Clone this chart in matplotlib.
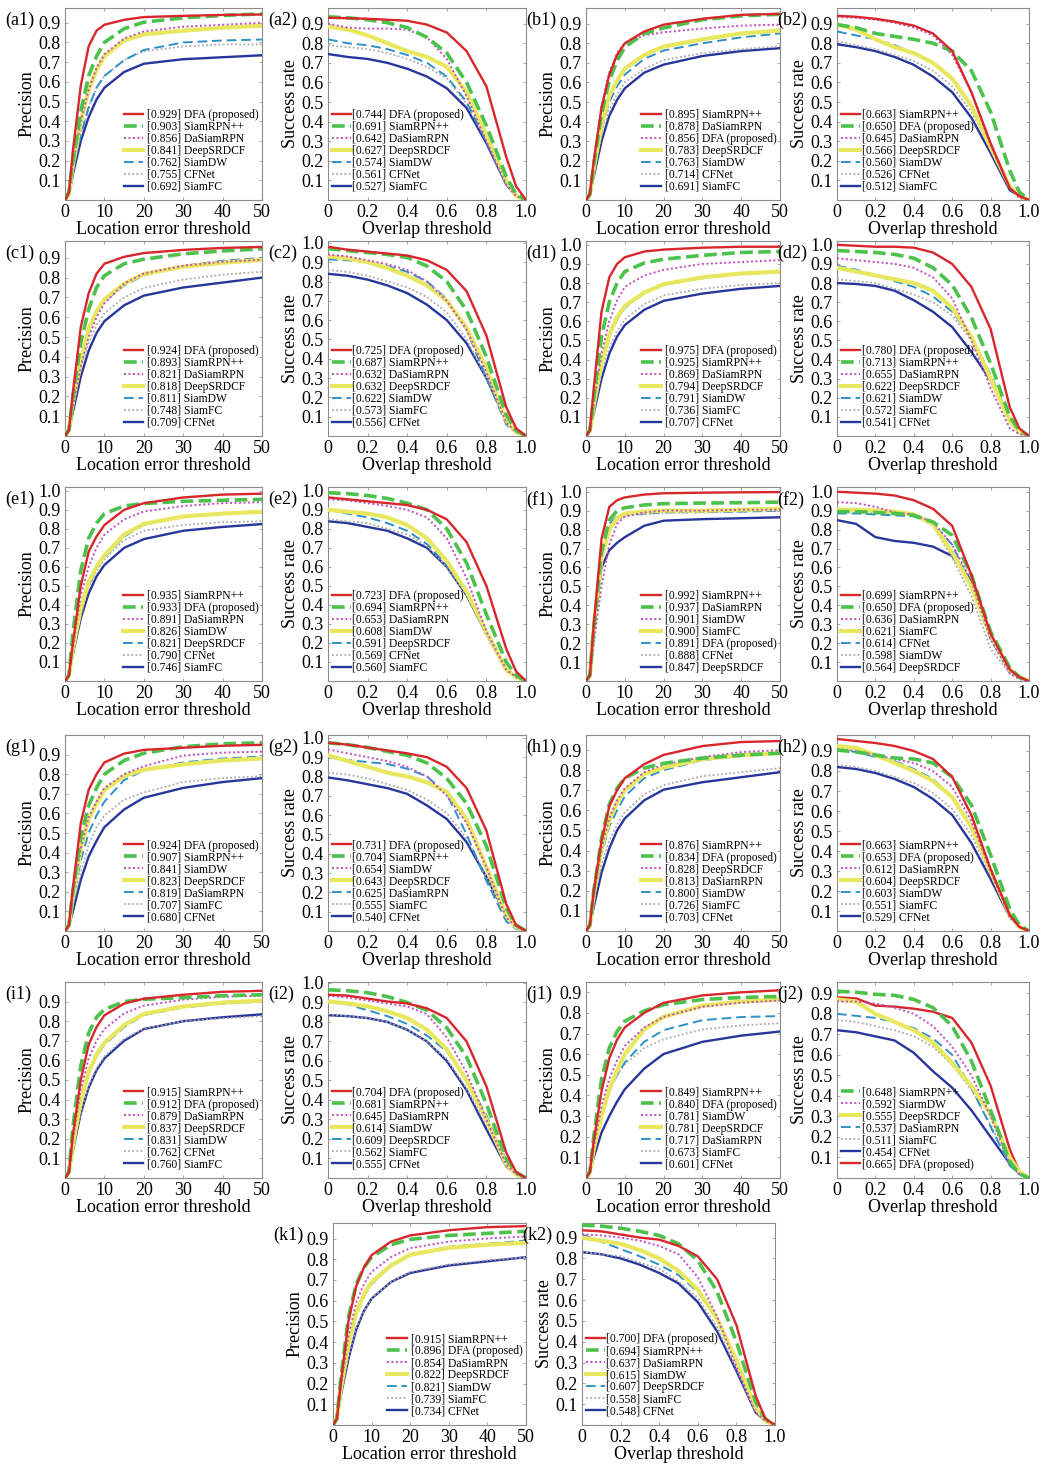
import matplotlib
matplotlib.use("Agg")
import matplotlib.pyplot as plt

plt.rcParams['font.family'] = ['Liberation Serif', 'DejaVu Serif']

W, H = 1051, 1466

# x positions of the sampled curve points
prec_x = [0, 1, 2, 4, 6, 8, 10, 15, 20, 30, 40, 50]
succ_x = [0, 0.1, 0.2, 0.3, 0.4, 0.5, 0.6, 0.7, 0.8, 0.9, 0.95, 1.0]

# ---------------- (a) ----------------
a1_names = ["DFA (proposed)", "SiamRPN++", "DaSiamRPN", "DeepSRDCF", "SiamDW", "CFNet", "SiamFC"]
a1_scores = [0.929, 0.903, 0.856, 0.841, 0.762, 0.755, 0.692]
a1_curves = [
    [0, 0.04, 0.25, 0.58, 0.78, 0.86, 0.89, 0.915, 0.929, 0.935, 0.94, 0.942],
    [0, 0.04, 0.20, 0.45, 0.63, 0.73, 0.80, 0.87, 0.903, 0.925, 0.937, 0.945],
    [0, 0.03, 0.18, 0.40, 0.56, 0.67, 0.74, 0.82, 0.856, 0.88, 0.89, 0.90],
    [0, 0.03, 0.18, 0.40, 0.56, 0.66, 0.73, 0.81, 0.841, 0.86, 0.875, 0.885],
    [0, 0.03, 0.15, 0.33, 0.47, 0.57, 0.63, 0.71, 0.762, 0.80, 0.81, 0.815],
    [0, 0.03, 0.15, 0.33, 0.47, 0.57, 0.63, 0.71, 0.755, 0.78, 0.79, 0.79],
    [0, 0.03, 0.13, 0.30, 0.42, 0.51, 0.57, 0.65, 0.692, 0.715, 0.725, 0.735],
]
a2_names = ["DFA (proposed)", "SiamRPN++", "DaSiamRPN", "DeepSRDCF", "SiamDW", "CFNet", "SiamFC"]
a2_scores = [0.744, 0.691, 0.642, 0.627, 0.574, 0.561, 0.527]
a2_curves = [
    [0.93, 0.928, 0.925, 0.92, 0.915, 0.895, 0.855, 0.76, 0.58, 0.22, 0.07, 0],
    [0.935, 0.93, 0.92, 0.905, 0.88, 0.83, 0.75, 0.60, 0.38, 0.12, 0.03, 0],
    [0.90, 0.88, 0.875, 0.875, 0.87, 0.83, 0.72, 0.53, 0.30, 0.08, 0.02, 0],
    [0.885, 0.87, 0.84, 0.80, 0.76, 0.73, 0.68, 0.55, 0.33, 0.10, 0.02, 0],
    [0.82, 0.80, 0.79, 0.77, 0.74, 0.70, 0.63, 0.50, 0.30, 0.08, 0.02, 0],
    [0.79, 0.78, 0.77, 0.75, 0.72, 0.68, 0.62, 0.49, 0.30, 0.08, 0.02, 0],
    [0.745, 0.73, 0.72, 0.70, 0.67, 0.63, 0.57, 0.47, 0.29, 0.08, 0.02, 0],
]

# ---------------- (b) ----------------
b1_names = ["SiamRPN++", "DaSiamRPN", "DFA (proposed)", "DeepSRDCF", "SiamDW", "CFNet", "SiamFC"]
b1_scores = [0.895, 0.878, 0.856, 0.783, 0.763, 0.714, 0.691]
b1_curves = [
    [0, 0.03, 0.20, 0.47, 0.64, 0.74, 0.80, 0.86, 0.895, 0.925, 0.945, 0.95],
    [0, 0.03, 0.18, 0.44, 0.61, 0.71, 0.78, 0.85, 0.878, 0.92, 0.94, 0.948],
    [0, 0.03, 0.20, 0.48, 0.65, 0.75, 0.80, 0.84, 0.856, 0.875, 0.89, 0.895],
    [0, 0.03, 0.16, 0.38, 0.53, 0.61, 0.67, 0.74, 0.783, 0.82, 0.85, 0.865],
    [0, 0.03, 0.15, 0.36, 0.50, 0.58, 0.64, 0.72, 0.763, 0.80, 0.83, 0.85],
    [0, 0.03, 0.14, 0.33, 0.46, 0.54, 0.60, 0.67, 0.714, 0.75, 0.77, 0.785],
    [0, 0.03, 0.12, 0.30, 0.43, 0.51, 0.57, 0.65, 0.691, 0.735, 0.76, 0.775],
]
b2_names = ["SiamRPN++", "DFA (proposed)", "DaSiamRPN", "DeepSRDCF", "SiamDW", "CFNet", "SiamFC"]
b2_scores = [0.663, 0.650, 0.645, 0.566, 0.560, 0.526, 0.512]
b2_curves = [
    [0.94, 0.935, 0.925, 0.91, 0.89, 0.85, 0.76, 0.55, 0.29, 0.06, 0.02, 0],
    [0.895, 0.88, 0.85, 0.835, 0.82, 0.80, 0.76, 0.66, 0.45, 0.15, 0.04, 0],
    [0.935, 0.93, 0.92, 0.905, 0.88, 0.84, 0.74, 0.55, 0.28, 0.06, 0.01, 0],
    [0.895, 0.87, 0.82, 0.78, 0.75, 0.70, 0.62, 0.48, 0.27, 0.07, 0.02, 0],
    [0.86, 0.84, 0.82, 0.79, 0.75, 0.70, 0.62, 0.48, 0.26, 0.06, 0.02, 0],
    [0.81, 0.79, 0.77, 0.74, 0.71, 0.66, 0.58, 0.45, 0.26, 0.06, 0.02, 0],
    [0.795, 0.78, 0.76, 0.73, 0.69, 0.63, 0.55, 0.42, 0.24, 0.05, 0.02, 0],
]

# ---------------- (c) ----------------
c1_names = ["DFA (proposed)", "SiamRPN++", "DaSiamRPN", "DeepSRDCF", "SiamDW", "SiamFC", "CFNet"]
c1_scores = [0.924, 0.893, 0.821, 0.818, 0.811, 0.748, 0.709]
c1_curves = [
    [0, 0.03, 0.22, 0.55, 0.72, 0.82, 0.87, 0.905, 0.924, 0.94, 0.95, 0.955],
    [0, 0.03, 0.20, 0.47, 0.64, 0.75, 0.81, 0.87, 0.893, 0.92, 0.935, 0.945],
    [0, 0.03, 0.15, 0.35, 0.50, 0.60, 0.67, 0.77, 0.821, 0.86, 0.88, 0.89],
    [0, 0.03, 0.17, 0.38, 0.54, 0.63, 0.69, 0.77, 0.818, 0.855, 0.875, 0.89],
    [0, 0.03, 0.17, 0.38, 0.53, 0.62, 0.68, 0.76, 0.811, 0.86, 0.885, 0.90],
    [0, 0.03, 0.15, 0.33, 0.47, 0.56, 0.62, 0.70, 0.748, 0.79, 0.815, 0.83],
    [0, 0.03, 0.12, 0.30, 0.43, 0.52, 0.58, 0.66, 0.709, 0.75, 0.775, 0.80],
]
c2_names = ["DFA (proposed)", "SiamRPN++", "DaSiamRPN", "DeepSRDCF", "SiamDW", "SiamFC", "CFNet"]
c2_scores = [0.725, 0.687, 0.632, 0.632, 0.622, 0.573, 0.556]
c2_curves = [
    [0.98, 0.965, 0.955, 0.945, 0.935, 0.91, 0.86, 0.75, 0.52, 0.15, 0.04, 0],
    [0.97, 0.96, 0.95, 0.94, 0.925, 0.88, 0.80, 0.65, 0.41, 0.11, 0.03, 0],
    [0.94, 0.93, 0.91, 0.89, 0.86, 0.80, 0.70, 0.55, 0.33, 0.07, 0.02, 0],
    [0.93, 0.92, 0.90, 0.87, 0.83, 0.78, 0.70, 0.56, 0.35, 0.08, 0.02, 0],
    [0.915, 0.91, 0.90, 0.88, 0.85, 0.80, 0.71, 0.55, 0.30, 0.06, 0.02, 0],
    [0.86, 0.85, 0.83, 0.80, 0.77, 0.72, 0.64, 0.50, 0.30, 0.07, 0.02, 0],
    [0.84, 0.83, 0.81, 0.78, 0.74, 0.68, 0.60, 0.48, 0.30, 0.08, 0.02, 0],
]

# ---------------- (d) ----------------
d1_names = ["DFA (proposed)", "SiamRPN++", "DaSiamRPN", "DeepSRDCF", "SiamDW", "SiamFC", "CFNet"]
d1_scores = [0.975, 0.925, 0.869, 0.794, 0.791, 0.736, 0.707]
d1_curves = [
    [0, 0.03, 0.25, 0.65, 0.83, 0.90, 0.935, 0.965, 0.975, 0.985, 0.99, 0.99],
    [0, 0.03, 0.20, 0.52, 0.70, 0.80, 0.86, 0.905, 0.925, 0.945, 0.96, 0.965],
    [0, 0.03, 0.17, 0.43, 0.60, 0.71, 0.78, 0.84, 0.869, 0.90, 0.91, 0.92],
    [0, 0.03, 0.16, 0.38, 0.53, 0.62, 0.68, 0.75, 0.794, 0.83, 0.85, 0.86],
    [0, 0.03, 0.16, 0.38, 0.52, 0.61, 0.67, 0.75, 0.791, 0.825, 0.85, 0.86],
    [0, 0.03, 0.14, 0.33, 0.46, 0.55, 0.61, 0.69, 0.736, 0.77, 0.79, 0.80],
    [0, 0.03, 0.12, 0.30, 0.43, 0.52, 0.58, 0.66, 0.707, 0.745, 0.77, 0.785],
]
d2_names = ["DFA (proposed)", "SiamRPN++", "DaSiamRPN", "DeepSRDCF", "SiamDW", "SiamFC", "CFNet"]
d2_scores = [0.780, 0.713, 0.655, 0.622, 0.621, 0.572, 0.541]
d2_curves = [
    [1.0, 0.995, 0.99, 0.99, 0.985, 0.96, 0.90, 0.78, 0.56, 0.15, 0.04, 0],
    [0.97, 0.965, 0.96, 0.95, 0.93, 0.88, 0.79, 0.62, 0.38, 0.10, 0.03, 0],
    [0.93, 0.92, 0.91, 0.90, 0.88, 0.83, 0.72, 0.50, 0.25, 0.04, 0.01, 0],
    [0.88, 0.86, 0.84, 0.82, 0.80, 0.76, 0.67, 0.52, 0.30, 0.08, 0.02, 0],
    [0.89, 0.87, 0.84, 0.81, 0.78, 0.73, 0.65, 0.52, 0.32, 0.09, 0.02, 0],
    [0.82, 0.81, 0.80, 0.77, 0.74, 0.70, 0.63, 0.50, 0.30, 0.07, 0.02, 0],
    [0.80, 0.795, 0.785, 0.76, 0.71, 0.65, 0.57, 0.44, 0.29, 0.09, 0.02, 0],
]

# ---------------- (e) ----------------
e1_names = ["SiamRPN++", "DFA (proposed)", "DaSiamRPN", "SiamDW", "DeepSRDCF", "CFNet", "SiamFC"]
e1_scores = [0.935, 0.933, 0.891, 0.826, 0.821, 0.790, 0.746]
e1_curves = [
    [0, 0.03, 0.20, 0.50, 0.68, 0.76, 0.82, 0.90, 0.935, 0.965, 0.98, 0.985],
    [0, 0.03, 0.25, 0.58, 0.75, 0.83, 0.88, 0.92, 0.933, 0.945, 0.95, 0.955],
    [0, 0.03, 0.18, 0.45, 0.60, 0.70, 0.77, 0.85, 0.891, 0.92, 0.935, 0.94],
    [0, 0.03, 0.17, 0.38, 0.52, 0.60, 0.66, 0.77, 0.826, 0.865, 0.88, 0.89],
    [0, 0.03, 0.17, 0.37, 0.50, 0.59, 0.65, 0.76, 0.821, 0.865, 0.88, 0.89],
    [0, 0.03, 0.16, 0.35, 0.49, 0.58, 0.64, 0.74, 0.790, 0.82, 0.835, 0.84],
    [0, 0.03, 0.14, 0.33, 0.46, 0.55, 0.61, 0.70, 0.746, 0.79, 0.81, 0.825],
]
e2_names = ["DFA (proposed)", "SiamRPN++", "DaSiamRPN", "SiamDW", "DeepSRDCF", "CFNet", "SiamFC"]
e2_scores = [0.723, 0.694, 0.653, 0.608, 0.591, 0.569, 0.560]
e2_curves = [
    [0.965, 0.955, 0.945, 0.935, 0.925, 0.90, 0.85, 0.73, 0.50, 0.17, 0.05, 0],
    [0.99, 0.985, 0.975, 0.96, 0.935, 0.90, 0.80, 0.62, 0.35, 0.10, 0.03, 0],
    [0.955, 0.95, 0.935, 0.92, 0.90, 0.86, 0.75, 0.54, 0.26, 0.06, 0.02, 0],
    [0.90, 0.89, 0.88, 0.86, 0.82, 0.75, 0.63, 0.47, 0.26, 0.06, 0.02, 0],
    [0.90, 0.88, 0.86, 0.83, 0.79, 0.72, 0.61, 0.46, 0.25, 0.06, 0.02, 0],
    [0.85, 0.84, 0.83, 0.80, 0.77, 0.71, 0.60, 0.45, 0.24, 0.05, 0.02, 0],
    [0.84, 0.83, 0.81, 0.79, 0.75, 0.70, 0.60, 0.45, 0.25, 0.06, 0.02, 0],
]

# ---------------- (f) ----------------
f1_names = ["SiamRPN++", "DaSiamRPN", "SiamDW", "SiamFC", "DFA (proposed)", "CFNet", "DeepSRDCF"]
f1_scores = [0.992, 0.937, 0.901, 0.900, 0.891, 0.888, 0.847]
f1_curves = [
    [0, 0.03, 0.30, 0.75, 0.92, 0.955, 0.97, 0.985, 0.992, 0.995, 0.997, 0.998],
    [0, 0.03, 0.28, 0.68, 0.85, 0.90, 0.915, 0.93, 0.937, 0.94, 0.942, 0.945],
    [0, 0.03, 0.20, 0.50, 0.72, 0.83, 0.87, 0.89, 0.901, 0.90, 0.905, 0.905],
    [0, 0.03, 0.28, 0.65, 0.80, 0.86, 0.885, 0.895, 0.90, 0.90, 0.905, 0.91],
    [0, 0.03, 0.28, 0.66, 0.83, 0.87, 0.88, 0.885, 0.891, 0.893, 0.895, 0.90],
    [0, 0.03, 0.27, 0.64, 0.80, 0.85, 0.87, 0.88, 0.888, 0.89, 0.895, 0.90],
    [0, 0.03, 0.27, 0.60, 0.69, 0.73, 0.76, 0.82, 0.847, 0.855, 0.86, 0.865],
]
f2_names = ["SiamRPN++", "DFA (proposed)", "DaSiamRPN", "SiamFC", "CFNet", "SiamDW", "DeepSRDCF"]
f2_scores = [0.699, 0.650, 0.636, 0.621, 0.614, 0.598, 0.564]
f2_curves = [
    [1.0, 0.995, 0.99, 0.98, 0.955, 0.91, 0.82, 0.56, 0.25, 0.06, 0.02, 0],
    [0.895, 0.895, 0.89, 0.885, 0.875, 0.84, 0.77, 0.56, 0.26, 0.07, 0.02, 0],
    [0.945, 0.94, 0.92, 0.89, 0.88, 0.84, 0.72, 0.53, 0.22, 0.04, 0.01, 0],
    [0.905, 0.905, 0.90, 0.895, 0.88, 0.83, 0.68, 0.50, 0.24, 0.06, 0.02, 0],
    [0.885, 0.885, 0.88, 0.875, 0.87, 0.83, 0.72, 0.50, 0.22, 0.05, 0.02, 0],
    [0.895, 0.895, 0.89, 0.885, 0.875, 0.82, 0.65, 0.45, 0.17, 0.04, 0.01, 0],
    [0.85, 0.83, 0.76, 0.74, 0.73, 0.71, 0.66, 0.53, 0.24, 0.06, 0.02, 0],
]

# ---------------- (g) ----------------
g1_names = ["DFA (proposed)", "SiamRPN++", "SiamDW", "DeepSRDCF", "DaSiamRPN", "SiamFC", "CFNet"]
g1_scores = [0.924, 0.907, 0.841, 0.823, 0.819, 0.707, 0.680]
g1_curves = [
    [0, 0.03, 0.22, 0.55, 0.72, 0.80, 0.86, 0.905, 0.924, 0.935, 0.945, 0.95],
    [0, 0.03, 0.20, 0.48, 0.64, 0.73, 0.80, 0.87, 0.907, 0.94, 0.955, 0.96],
    [0, 0.03, 0.18, 0.42, 0.58, 0.66, 0.73, 0.80, 0.841, 0.895, 0.91, 0.915],
    [0, 0.03, 0.18, 0.42, 0.57, 0.65, 0.72, 0.79, 0.823, 0.85, 0.87, 0.88],
    [0, 0.03, 0.15, 0.36, 0.50, 0.59, 0.66, 0.77, 0.819, 0.86, 0.88, 0.89],
    [0, 0.03, 0.13, 0.30, 0.44, 0.53, 0.59, 0.67, 0.707, 0.76, 0.78, 0.79],
    [0, 0.03, 0.10, 0.26, 0.38, 0.46, 0.53, 0.62, 0.680, 0.73, 0.76, 0.78],
]
g2_names = ["DFA (proposed)", "SiamRPN++", "SiamDW", "DeepSRDCF", "DaSiamRPN", "SiamFC", "CFNet"]
g2_scores = [0.731, 0.704, 0.654, 0.643, 0.625, 0.555, 0.540]
g2_curves = [
    [0.975, 0.965, 0.95, 0.935, 0.92, 0.90, 0.85, 0.74, 0.52, 0.14, 0.03, 0],
    [0.975, 0.965, 0.95, 0.93, 0.91, 0.87, 0.79, 0.66, 0.44, 0.12, 0.03, 0],
    [0.94, 0.92, 0.90, 0.88, 0.85, 0.80, 0.70, 0.56, 0.33, 0.07, 0.02, 0],
    [0.91, 0.88, 0.85, 0.82, 0.80, 0.77, 0.72, 0.58, 0.33, 0.08, 0.02, 0],
    [0.90, 0.885, 0.875, 0.865, 0.84, 0.80, 0.71, 0.50, 0.26, 0.05, 0.01, 0],
    [0.82, 0.81, 0.79, 0.76, 0.73, 0.68, 0.61, 0.48, 0.28, 0.07, 0.02, 0],
    [0.795, 0.78, 0.76, 0.74, 0.71, 0.65, 0.58, 0.46, 0.28, 0.08, 0.02, 0],
]

# ---------------- (h) ----------------
h1_names = ["SiamRPN++", "DFA (proposed)", "DeepSRDCF", "DaSiarnRPN", "SiamDW", "SiamFC", "CFNet"]
h1_scores = [0.876, 0.834, 0.828, 0.813, 0.800, 0.726, 0.703]
h1_curves = [
    [0, 0.03, 0.20, 0.45, 0.62, 0.70, 0.76, 0.83, 0.876, 0.92, 0.94, 0.945],
    [0, 0.03, 0.20, 0.46, 0.63, 0.71, 0.76, 0.81, 0.834, 0.86, 0.875, 0.885],
    [0, 0.03, 0.18, 0.41, 0.56, 0.65, 0.71, 0.79, 0.828, 0.865, 0.89, 0.90],
    [0, 0.03, 0.18, 0.41, 0.55, 0.64, 0.70, 0.78, 0.813, 0.855, 0.875, 0.885],
    [0, 0.03, 0.16, 0.38, 0.52, 0.60, 0.67, 0.76, 0.800, 0.85, 0.87, 0.885],
    [0, 0.03, 0.15, 0.33, 0.45, 0.53, 0.59, 0.68, 0.726, 0.77, 0.79, 0.81],
    [0, 0.03, 0.12, 0.29, 0.41, 0.50, 0.56, 0.65, 0.703, 0.74, 0.765, 0.79],
]
h2_names = ["SiamRPN++", "DFA (proposed)", "DaSiamRPN", "DeepSRDCF", "SiamDW", "SiamFC", "CFNet"]
h2_scores = [0.663, 0.653, 0.612, 0.604, 0.603, 0.551, 0.529]
h2_curves = [
    [0.96, 0.95, 0.94, 0.925, 0.90, 0.86, 0.77, 0.58, 0.31, 0.08, 0.02, 0],
    [0.905, 0.895, 0.88, 0.865, 0.86, 0.84, 0.77, 0.63, 0.38, 0.11, 0.03, 0],
    [0.91, 0.90, 0.88, 0.86, 0.84, 0.80, 0.72, 0.55, 0.30, 0.07, 0.02, 0],
    [0.925, 0.915, 0.88, 0.84, 0.80, 0.75, 0.67, 0.52, 0.30, 0.08, 0.02, 0],
    [0.905, 0.895, 0.87, 0.85, 0.81, 0.76, 0.67, 0.52, 0.29, 0.07, 0.02, 0],
    [0.83, 0.82, 0.80, 0.77, 0.74, 0.69, 0.61, 0.48, 0.28, 0.07, 0.02, 0],
    [0.82, 0.81, 0.79, 0.76, 0.72, 0.66, 0.58, 0.44, 0.26, 0.07, 0.02, 0],
]

# ---------------- (i) ----------------
i1_names = ["SiamRPN++", "DFA (proposed)", "DaSiamRPN", "DeepSRDCF", "SiamDW", "CFNet", "SiamFC"]
i1_scores = [0.915, 0.912, 0.879, 0.837, 0.831, 0.762, 0.760]
i1_curves = [
    [0, 0.03, 0.22, 0.50, 0.68, 0.77, 0.83, 0.89, 0.915, 0.935, 0.95, 0.955],
    [0, 0.03, 0.26, 0.57, 0.74, 0.82, 0.86, 0.90, 0.912, 0.92, 0.93, 0.935],
    [0, 0.03, 0.20, 0.45, 0.61, 0.70, 0.76, 0.84, 0.879, 0.91, 0.925, 0.93],
    [0, 0.03, 0.17, 0.39, 0.54, 0.63, 0.69, 0.78, 0.837, 0.875, 0.895, 0.905],
    [0, 0.03, 0.17, 0.38, 0.53, 0.62, 0.68, 0.77, 0.831, 0.87, 0.89, 0.90],
    [0, 0.03, 0.15, 0.34, 0.47, 0.56, 0.62, 0.71, 0.762, 0.80, 0.815, 0.825],
    [0, 0.03, 0.14, 0.33, 0.46, 0.55, 0.61, 0.70, 0.760, 0.80, 0.82, 0.835],
]
i2_names = ["DFA (proposed)", "SiamRPN++", "DaSiamRPN", "SiamDW", "DeepSRDCF", "SiamFC", "CFNet"]
i2_scores = [0.704, 0.681, 0.645, 0.614, 0.609, 0.562, 0.555]
i2_curves = [
    [0.94, 0.935, 0.92, 0.905, 0.895, 0.87, 0.82, 0.70, 0.47, 0.13, 0.03, 0],
    [0.965, 0.96, 0.95, 0.93, 0.90, 0.86, 0.77, 0.62, 0.38, 0.10, 0.03, 0],
    [0.935, 0.925, 0.91, 0.895, 0.88, 0.84, 0.72, 0.54, 0.30, 0.07, 0.02, 0],
    [0.905, 0.895, 0.88, 0.855, 0.82, 0.76, 0.66, 0.50, 0.30, 0.07, 0.02, 0],
    [0.91, 0.89, 0.86, 0.83, 0.79, 0.73, 0.65, 0.51, 0.32, 0.09, 0.02, 0],
    [0.84, 0.83, 0.82, 0.80, 0.76, 0.70, 0.61, 0.46, 0.27, 0.07, 0.02, 0],
    [0.835, 0.83, 0.82, 0.80, 0.76, 0.70, 0.60, 0.45, 0.25, 0.06, 0.02, 0],
]

# ---------------- (j) ----------------
j1_names = ["SiamRPN++", "DFA (proposed)", "SiamDW", "DeepSRDCF", "DaSiamRPN", "SiamFC", "CFNet"]
j1_scores = [0.849, 0.840, 0.781, 0.781, 0.717, 0.673, 0.601]
j1_curves = [
    [0, 0.03, 0.18, 0.42, 0.58, 0.67, 0.73, 0.80, 0.849, 0.885, 0.90, 0.91],
    [0, 0.03, 0.20, 0.48, 0.63, 0.71, 0.76, 0.81, 0.840, 0.865, 0.875, 0.88],
    [0, 0.03, 0.15, 0.35, 0.48, 0.57, 0.64, 0.73, 0.781, 0.83, 0.85, 0.86],
    [0, 0.03, 0.14, 0.30, 0.43, 0.52, 0.60, 0.72, 0.781, 0.835, 0.855, 0.865],
    [0, 0.03, 0.13, 0.30, 0.42, 0.50, 0.56, 0.66, 0.717, 0.765, 0.78, 0.785],
    [0, 0.03, 0.13, 0.30, 0.42, 0.50, 0.55, 0.63, 0.673, 0.72, 0.74, 0.75],
    [0, 0.03, 0.10, 0.22, 0.30, 0.37, 0.43, 0.53, 0.601, 0.66, 0.69, 0.71],
]
j2_names = ["SiamRPN++", "SiarmDW", "DeepSRDCF", "DaSiamRPN", "SiamFC", "CFNet", "DFA (proposed)"]
j2_scores = [0.648, 0.592, 0.555, 0.537, 0.511, 0.454, 0.665]
j2_curves = [
    [0.91, 0.905, 0.895, 0.89, 0.87, 0.83, 0.74, 0.57, 0.33, 0.08, 0.02, 0],
    [0.86, 0.86, 0.85, 0.83, 0.80, 0.74, 0.64, 0.50, 0.30, 0.07, 0.02, 0],
    [0.87, 0.86, 0.80, 0.76, 0.72, 0.66, 0.56, 0.45, 0.31, 0.10, 0.03, 0],
    [0.80, 0.79, 0.78, 0.76, 0.73, 0.68, 0.60, 0.44, 0.25, 0.06, 0.02, 0],
    [0.77, 0.76, 0.74, 0.72, 0.69, 0.64, 0.55, 0.43, 0.26, 0.07, 0.02, 0],
    [0.72, 0.71, 0.69, 0.67, 0.61, 0.52, 0.44, 0.33, 0.20, 0.07, 0.02, 0],
    [0.88, 0.875, 0.84, 0.835, 0.825, 0.81, 0.78, 0.66, 0.45, 0.14, 0.03, 0],
]

# ---------------- (k) ----------------
k1_names = ["SiamRPN++", "DFA (proposed)", "DaSiamRPN", "DeepSRDCF", "SiamDW", "SiamFC", "CFNet"]
k1_scores = [0.915, 0.896, 0.854, 0.822, 0.821, 0.739, 0.734]
k1_curves = [
    [0, 0.03, 0.20, 0.50, 0.67, 0.76, 0.82, 0.885, 0.915, 0.94, 0.955, 0.96],
    [0, 0.03, 0.22, 0.52, 0.68, 0.76, 0.81, 0.87, 0.896, 0.915, 0.925, 0.935],
    [0, 0.03, 0.18, 0.43, 0.59, 0.68, 0.74, 0.81, 0.854, 0.885, 0.90, 0.91],
    [0, 0.03, 0.17, 0.39, 0.54, 0.63, 0.69, 0.77, 0.822, 0.855, 0.87, 0.88],
    [0, 0.03, 0.17, 0.38, 0.53, 0.62, 0.68, 0.77, 0.821, 0.86, 0.875, 0.89],
    [0, 0.03, 0.15, 0.33, 0.47, 0.55, 0.61, 0.69, 0.739, 0.775, 0.795, 0.81],
    [0, 0.03, 0.14, 0.32, 0.46, 0.55, 0.61, 0.69, 0.734, 0.77, 0.79, 0.81],
]
k2_names = ["DFA (proposed)", "SiamRPN++", "DaSiamRPN", "SiamDW", "DeepSRDCF", "SiamFC", "CFNet"]
k2_scores = [0.700, 0.694, 0.637, 0.615, 0.607, 0.558, 0.548]
k2_curves = [
    [0.935, 0.93, 0.915, 0.90, 0.89, 0.86, 0.81, 0.70, 0.48, 0.14, 0.03, 0],
    [0.96, 0.955, 0.945, 0.93, 0.91, 0.87, 0.79, 0.64, 0.40, 0.11, 0.03, 0],
    [0.915, 0.91, 0.90, 0.885, 0.86, 0.82, 0.71, 0.52, 0.28, 0.06, 0.02, 0],
    [0.90, 0.885, 0.87, 0.84, 0.80, 0.74, 0.65, 0.51, 0.31, 0.08, 0.02, 0],
    [0.915, 0.88, 0.845, 0.81, 0.77, 0.72, 0.64, 0.51, 0.32, 0.09, 0.02, 0],
    [0.83, 0.82, 0.81, 0.78, 0.75, 0.69, 0.61, 0.47, 0.27, 0.06, 0.02, 0],
    [0.83, 0.82, 0.80, 0.77, 0.73, 0.68, 0.59, 0.45, 0.26, 0.06, 0.02, 0],
]

# line styles by legend rank
styles = {
    'red': dict(color='#d8262c', ls='-', lw=1.7),
    'green': dict(color='#4cc24c', ls=(0, (3.5, 1.5)), lw=2.6),
    'magenta': dict(color='#c04cc4', ls=(0, (1, 1.3)), lw=1.4),
    'yellow': dict(color='#e8e860', ls='-', lw=3.0),
    'cyan': dict(color='#3090c8', ls=(0, (5, 2.5)), lw=1.4),
    'gray': dict(color='#aaaaaa', ls=(0, (1, 1.3)), lw=1.3),
    'blue': dict(color='#28369c', ls='-', lw=1.7),
}
rank_styles = ['red', 'green', 'magenta', 'yellow', 'cyan', 'gray', 'blue']
j2_styles = ['green', 'magenta', 'yellow', 'cyan', 'gray', 'blue', 'red']

# panel: id, kind, names, scores, curves, styles, ylim top, show 1.0 tick
panels = [
    ("a1", "p", a1_names, a1_scores, a1_curves, rank_styles, 0.975, False),
    ("a2", "s", a2_names, a2_scores, a2_curves, rank_styles, 0.98, False),
    ("b1", "p", b1_names, b1_scores, b1_curves, rank_styles, 0.98, False),
    ("b2", "s", b2_names, b2_scores, b2_curves, rank_styles, 0.98, False),
    ("c1", "p", c1_names, c1_scores, c1_curves, rank_styles, 0.985, False),
    ("c2", "s", c2_names, c2_scores, c2_curves, rank_styles, 1.01, True),
    ("d1", "p", d1_names, d1_scores, d1_curves, rank_styles, 1.02, True),
    ("d2", "s", d2_names, d2_scores, d2_curves, rank_styles, 1.02, True),
    ("e1", "p", e1_names, e1_scores, e1_curves, rank_styles, 1.02, True),
    ("e2", "s", e2_names, e2_scores, e2_curves, rank_styles, 1.02, True),
    ("f1", "p", f1_names, f1_scores, f1_curves, rank_styles, 1.025, True),
    ("f2", "s", f2_names, f2_scores, f2_curves, rank_styles, 1.025, True),
    ("g1", "p", g1_names, g1_scores, g1_curves, rank_styles, 1.0, False),
    ("g2", "s", g2_names, g2_scores, g2_curves, rank_styles, 1.015, True),
    ("h1", "p", h1_names, h1_scores, h1_curves, rank_styles, 0.975, False),
    ("h2", "s", h2_names, h2_scores, h2_curves, rank_styles, 0.98, False),
    ("i1", "p", i1_names, i1_scores, i1_curves, rank_styles, 1.0, False),
    ("i2", "s", i2_names, i2_scores, i2_curves, rank_styles, 1.005, True),
    ("j1", "p", j1_names, j1_scores, j1_curves, rank_styles, 0.95, False),
    ("j2", "s", j2_names, j2_scores, j2_curves, j2_styles, 0.955, False),
    ("k1", "p", k1_names, k1_scores, k1_curves, rank_styles, 0.975, False),
    ("k2", "s", k2_names, k2_scores, k2_curves, rank_styles, 0.97, False),
]

# axes boxes in pixels (left, right) per column and (top, bottom) per row
cols = [(65, 262), (328, 526), (586, 780), (837, 1029)]
rows = [(8, 200), (241, 436), (487, 681), (735, 931), (982, 1178), (1223, 1425)]
k_cols = [(333, 526), (582, 775)]

fig = plt.figure(figsize=(W / 100, H / 100), dpi=100)

for n, (pid, kind, names, scores, curves, sty, ytop, show10) in enumerate(panels):
    r = n // 4
    if r < 5:
        x0, x1 = cols[n % 4]
    else:
        x0, x1 = k_cols[n % 4]
    y0, y1 = rows[r]
    ax = fig.add_axes([x0 / W, 1 - y1 / H, (x1 - x0) / W, (y1 - y0) / H])

    xs = prec_x if kind == "p" else succ_x
    for i in range(len(names) - 1, -1, -1):
        st = styles[sty[i]]
        ax.plot(xs, curves[i], color=st['color'], linestyle=st['ls'], lw=st['lw'],
                label="[%.3f] %s" % (scores[i], names[i]), zorder=10 - i)

    if kind == "p":
        ax.set_xlim(0, 50)
        ax.set_xticks([0, 10, 20, 30, 40, 50])
        ax.set_xlabel("Location error threshold", fontsize=13, labelpad=0)
        ax.set_ylabel("Precision", fontsize=13, labelpad=2)
    else:
        ax.set_xlim(0, 1)
        ax.set_xticks([0, 0.2, 0.4, 0.6, 0.8, 1.0])
        ax.set_xticklabels(["0", "0.2", "0.4", "0.6", "0.8", "1.0"])
        ax.set_xlabel("Overlap threshold", fontsize=13, labelpad=0)
        ax.set_ylabel("Success rate", fontsize=13, labelpad=2)
    ax.set_ylim(0, ytop)
    yt = [0.1, 0.2, 0.3, 0.4, 0.5, 0.6, 0.7, 0.8, 0.9] + ([1.0] if show10 else [])
    ax.set_yticks(yt)
    ax.set_yticklabels(["%.1f" % v for v in yt])
    ax.tick_params(direction='in', length=2.5, width=0.6, color='#999999',
                   labelsize=13, pad=3, top=True, right=True)
    for sp in ax.spines.values():
        sp.set_color('#8c8c8c')
        sp.set_linewidth(0.8)

    handles, labels = ax.get_legend_handles_labels()
    handles, labels = handles[::-1], labels[::-1]
    if kind == "p":
        ax.legend(handles, labels, loc='lower right', bbox_to_anchor=(1.0, 0.02),
                  fontsize=8.4, frameon=False, handlelength=1.7, handletextpad=0.3,
                  labelspacing=0.0, borderaxespad=0.2, borderpad=0.1)
    else:
        ax.legend(handles, labels, loc='lower left', bbox_to_anchor=(0.0, 0.02),
                  fontsize=8.4, frameon=False, handlelength=1.7, handletextpad=0.1,
                  labelspacing=0.0, borderaxespad=0.2, borderpad=0.1)

    fig.text((x0 - 60) / W, 1 - (y0 + 4) / H, "(%s)" % pid, fontsize=13,
             ha='left', va='top')

fig.savefig("out.png", dpi=100)
